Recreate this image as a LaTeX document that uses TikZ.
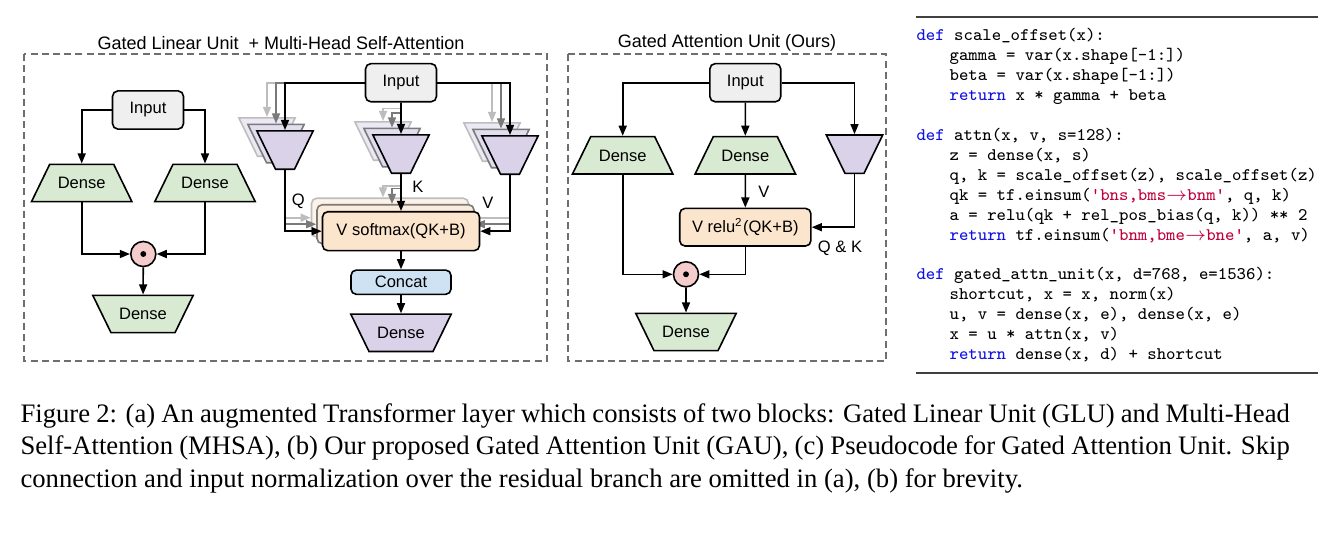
\documentclass[tikz,border=0pt]{standalone}
\usepackage{fontspec}
\setmainfont{Liberation Serif}
\newfontfamily\diagfont{Liberation Sans}
\usetikzlibrary{shapes.geometric,arrows.meta}

\definecolor{inputgray}{HTML}{EFEFEF}
\definecolor{densegreen}{HTML}{D9EAD3}
\definecolor{projpurple}{HTML}{D9D2E9}
\definecolor{projpurpleB}{HTML}{E2DDEF}
\definecolor{projpurpleC}{HTML}{ECE9F4}
\definecolor{attorange}{HTML}{FCE5CD}
\definecolor{attorangeB}{HTML}{FCEADA}
\definecolor{attorangeC}{HTML}{FDF2E8}
\definecolor{concatblue}{HTML}{CFE2F3}
\definecolor{gatepink}{HTML}{F4CCCC}
\definecolor{gline}{HTML}{7A7A7A}
\definecolor{lgline}{HTML}{BDBDBD}
\definecolor{framegray}{HTML}{6E6E6E}
\definecolor{kwblue}{HTML}{1010E0}
\definecolor{strred}{HTML}{C0003C}

\newcommand{\kw}[1]{\textcolor{kwblue}{#1}}
\newcommand{\str}[1]{\textcolor{strred}{#1}}
\newcommand{\ind}{\hspace*{12.4pt}}

\tikzset{
  diag/.style={font={\diagfont\fontsize{6.2}{7.4}\selectfont}},
  box/.style={diag, draw, rounded corners=2pt, line width=0.6pt, inner sep=0pt},
  inbox/.style={box, fill=inputgray, minimum width=26.6pt, minimum height=14.3pt},
  dense/.style={diag, trapezium, trapezium angle=64, draw, line width=0.6pt,
    fill=densegreen, inner sep=0pt, text width=24pt, align=center,
    text height=9.2pt, text depth=4.8pt},
  proj/.style={trapezium, trapezium angle=64, shape border rotate=180,
    draw, line width=0.6pt, fill=projpurple, inner sep=0pt,
    text width=7.1pt, text height=14.4pt, text depth=0pt},
  projB/.style={proj, draw=gline, fill=projpurpleB},
  projC/.style={proj, draw=lgline, fill=projpurpleC},
  att/.style={box, fill=attorange, minimum width=58.9pt, minimum height=14.6pt},
  attB/.style={att, draw=gline, fill=attorangeB},
  attC/.style={att, draw=lgline, fill=attorangeC},
  gate/.style={circle, draw, line width=0.6pt, fill=gatepink, minimum size=9.4pt, inner sep=0pt},
  lbl/.style={diag, inner sep=0pt},
  title/.style={font={\diagfont\fontsize{6.75}{8}\selectfont}, inner sep=0pt},
  arr/.style={-{Triangle[length=3.8pt,width=3pt]}, line width=0.6pt},
  garr/.style={arr, gline},
  lgarr/.style={arr, lgline},
  frame/.style={framegray, line width=0.55pt, dash pattern=on 2.6pt off 1.6pt},
  code/.style={font={\ttfamily\fontsize{6.65}{7.47}\selectfont}, align=left, inner sep=0pt},
  rule/.style={line width=0.5pt, black!75}
}

\begin{document}
\begin{tikzpicture}[x=0.375pt, y=-0.375pt]
  \useasboundingbox (0,0) rectangle (1334,536);

  % Frames and titles
  \draw[frame] (24,54) rectangle (547,361);
  \draw[frame] (568,54) rectangle (886,361);
  \node[title] (ta) at (281,43) {Gated Linear Unit\ \ + Multi-Head Self-Attention};
  \node[title] (tb) at (727,43) {Gated Attention Unit (Ours)};

  % (a) Gated Linear Unit
  \node[inbox] (in1) at (148,110) {Input};
  \node[dense] (d1) at (81.7,183) {Dense};
  \node[dense] (d2) at (205,183) {Dense};
  \node[gate] (g1) at (143.3,254) {};
  \fill (g1) circle (1.1pt);
  \node[dense, shape border rotate=180] (d3) at (143,314) {Dense};
  \draw[arr] (in1) -| (d1);
  \draw[arr] (in1) -| (d2);
  \draw[arr] (d1) |- (g1);
  \draw[arr] (d2) |- (g1);
  \draw[arr] (g1) -- (d3);

  % (a) Multi-Head Self-Attention
  \node[inbox] (in2) at (401,82.7) {Input};

  % Head copies behind the Q, K, V projections
  \node[projC] (q3) at (267,137) {};
  \node[projB] (q2) at (276,143.5) {};
  \node[projC] (k3) at (383,141) {};
  \node[projB] (k2) at (392,147.5) {};
  \node[projC] (v3) at (492,142) {};
  \node[projB] (v2) at (501,148.5) {};
  \coordinate (qtop) at (285,82.7);
  \coordinate (vtop) at (510,82.7);
  \coordinate (kb3) at (401,108.3);
  \coordinate (kb2) at (401,113);
  \draw[lgarr] (qtop) -| (q3);
  \draw[garr] (qtop) -| (q2);
  \draw[lgarr] (kb3) -| (k3);
  \draw[garr] (kb2) -| (k2);
  \draw[lgarr] (vtop) -| (v3);
  \draw[garr] (vtop) -| (v2);

  % Front projections
  \node[proj] (q) at (285,150) {};
  \node[proj] (k) at (401,154) {};
  \node[proj] (v) at (510,155) {};

  % Attention copies
  \node[attC] (att3) at (390,217.7) {};
  \node[attB] (att2) at (395.5,224.2) {};
  \coordinate (ka3) at (401,185.7);
  \coordinate (ka2) at (401,188.5);
  \draw[lgarr] (ka3) -| (att3.north -| 383,0);
  \draw[garr] (ka2) -| (att2.north -| 392,0);
  \draw[lgarr] (q |- att3) -- (att3);
  \draw[garr] (q |- att2) -- (att2);
  \draw[lgarr] (v |- att3) -- (att3);
  \draw[garr] (v |- att2) -- (att2);

  \node[att] (att) at (401,231.2) {V softmax(QK+B)};
  \node[box, fill=concatblue, minimum width=37.5pt, minimum height=9.1pt] (cat) at (401,282.2) {Concat};
  \node[dense, shape border rotate=180, fill=projpurple] (d7) at (401,332.8) {Dense};

  \draw[arr] (in2) -| (q);
  \draw[arr] (in2) -- (k);
  \draw[arr] (in2) -| (v);
  \draw[arr] (q) |- (att);
  \draw[arr] (k) -- (att);
  \draw[arr] (v) |- (att);
  \draw[arr] (att) -- (cat);
  \draw[arr] (cat) -- (d7);

  \node[lbl] (lq) at (298.3,201.7) {Q};
  \node[lbl] (lk) at (418,186.7) {K};
  \node[lbl] (lv) at (488,203) {V};

  % (b) Gated Attention Unit
  \node[inbox] (in3) at (745.3,82.7) {Input};
  \node[dense] (d4) at (622.7,155.3) {Dense};
  \node[dense] (d5) at (745.3,155.3) {Dense};
  \node[proj] (p1) at (854.5,154.2) {};
  \node[box, fill=attorange, minimum width=49.2pt, minimum height=14.1pt] (relu) at (745.3,227.2) {V relu\textsuperscript{2}(QK+B)};
  \node[gate] (g2) at (686,274.3) {};
  \fill (g2) circle (1.1pt);
  \node[dense, shape border rotate=180] (d6) at (686,332) {Dense};

  \draw[arr] (in3) -| (d4);
  \draw[arr] (in3) -- (d5);
  \draw[arr] (in3) -| (p1);
  \draw[arr] (d5) -- (relu);
  \draw[arr] (p1) |- (relu);
  \draw[arr] (d4) |- (g2);
  \draw[arr] (relu) |- (g2);
  \draw[arr] (g2) -- (d6);

  \node[lbl] (lv2) at (764,192.3) {V};
  \node[lbl] (lqk) at (840,248.3) {Q \& K};

  % (c) Pseudocode
  \draw[rule] (916,17) -- (1318,17);
  \draw[rule] (916,373) -- (1318,373);
  \node[code, anchor=north west] (pc) at (916,28) {%
    \kw{def} scale\_offset(x):\\
    \ind gamma = var(x.shape[-1:])\\
    \ind beta = var(x.shape[-1:])\\
    \ind \kw{return} x * gamma + beta\\[7.47pt]
    \kw{def} attn(x, v, s=128):\\
    \ind z = dense(x, s)\\
    \ind q, k = scale\_offset(z), scale\_offset(z)\\
    \ind qk = tf.einsum(\str{'bns,bms$\rightarrow$bnm'}, q, k)\\
    \ind a = relu(qk + rel\_pos\_bias(q, k)) ** 2\\
    \ind \kw{return} tf.einsum(\str{'bnm,bme$\rightarrow$bne'}, a, v)\\[7.47pt]
    \kw{def} gated\_attn\_unit(x, d=768, e=1536):\\
    \ind shortcut, x = x, norm(x)\\
    \ind u, v = dense(x, e), dense(x, e)\\
    \ind x = u * attn(x, v)\\
    \ind \kw{return} dense(x, d) + shortcut};

  % Caption
  \node[anchor=north west, text width=476pt, align=justify, inner sep=0pt,
    font=\fontsize{10}{12.2}\selectfont] (cap) at (20,403)
    {Figure 2: (a) An augmented Transformer layer which consists of two blocks: Gated Linear Unit (GLU) and Multi-Head\linebreak
     Self-Attention (MHSA), (b) Our proposed Gated Attention Unit (GAU), (c) Pseudocode for Gated Attention Unit. Skip\linebreak
     connection and input normalization over the residual branch are omitted in (a), (b) for brevity.};
\end{tikzpicture}
\end{document}
